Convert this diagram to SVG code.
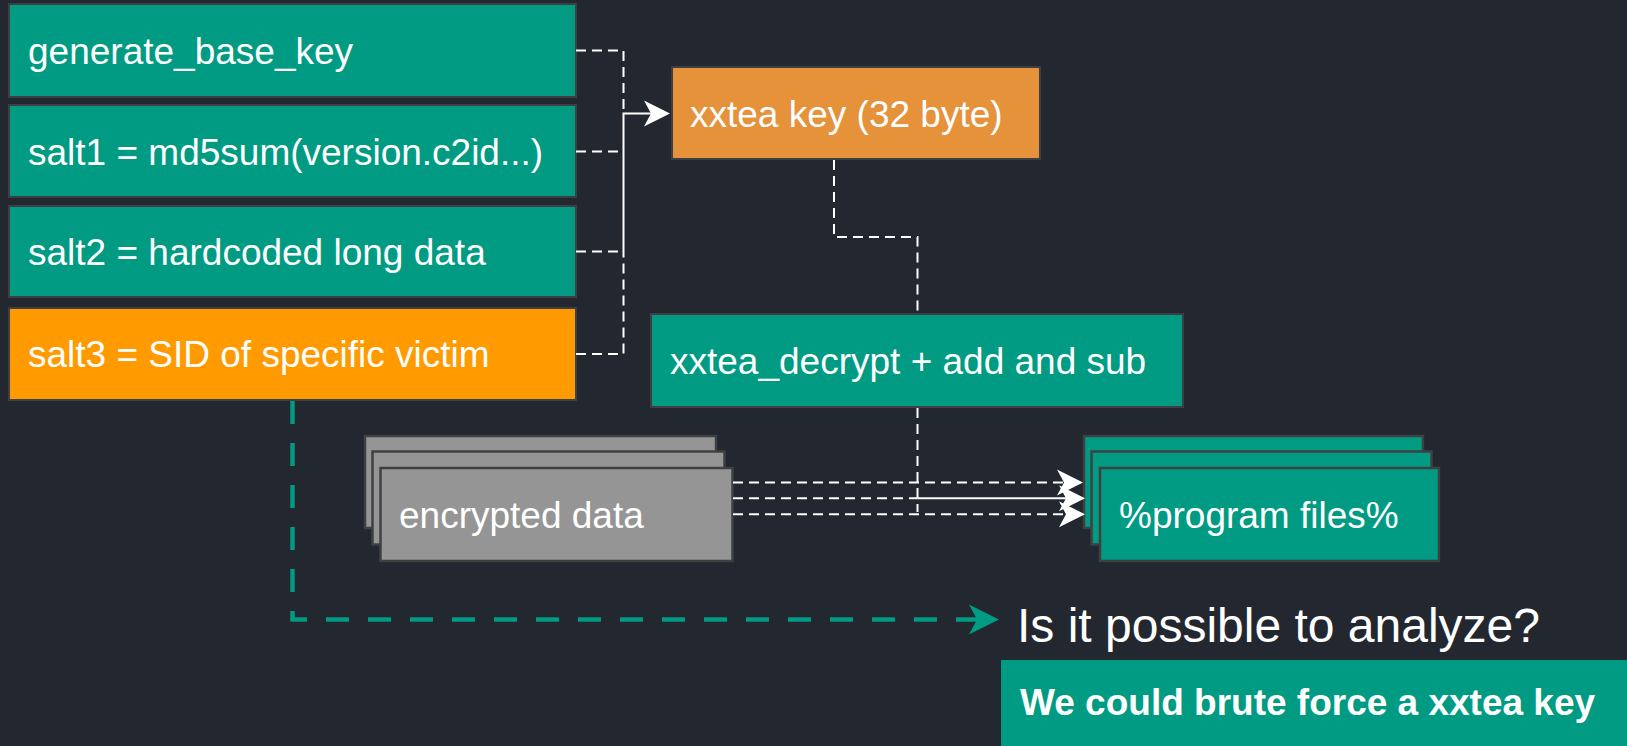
<svg xmlns="http://www.w3.org/2000/svg" width="1627" height="746" viewBox="0 0 1627 746">
  <defs>
    <style>
      .lbl { font-family: "Liberation Sans", Arial, sans-serif; font-size: 37px; fill: #ffffff; }
      .big { font-family: "Liberation Sans", Arial, sans-serif; font-size: 48px; fill: #ffffff; }
      .bold { font-family: "Liberation Sans", Arial, sans-serif; font-size: 37px; font-weight: bold; fill: #ffffff; }
      .teal { fill: #009B82; stroke: #3d3f42; stroke-width: 2; }
      .salt { fill: #FF9A00; stroke: #3d3f42; stroke-width: 2; }
      .key { fill: #E5923B; stroke: #3d3f42; stroke-width: 2; }
      .gray { fill: #959595; stroke: #3f4042; stroke-width: 2.5; }
      .stack { fill: #009B82; stroke: #3f4042; stroke-width: 2.5; }
      .dash { fill: none; stroke: #ffffff; stroke-width: 2; stroke-dasharray: 10 6; }
      .solid { fill: none; stroke: #ffffff; stroke-width: 2; }
      .tealdash { fill: none; stroke: #009B82; stroke-width: 4.5; stroke-dasharray: 23 19; }
    </style>
    <!-- notched arrowheads; the path end sits at the notch -->
    <marker id="arrowW" markerUnits="userSpaceOnUse" markerWidth="27" markerHeight="27" refX="7" refY="13" orient="auto" overflow="visible">
      <path d="M0,0 L26,13 L0,26 L7,13 Z" fill="#ffffff"/>
    </marker>
    <marker id="arrowT" markerUnits="userSpaceOnUse" markerWidth="31" markerHeight="31" refX="8" refY="15" orient="auto" overflow="visible">
      <path d="M0,0 L30,15 L0,30 L8,15 Z" fill="#009B82"/>
    </marker>
  </defs>

  <rect x="0" y="0" width="1627" height="746" fill="#23272F"/>

  <g id="generate_base_key">
    <rect class="teal" x="9" y="4" width="567" height="93"/>
    <text class="lbl" x="28" y="63.5">generate_base_key</text>
  </g>
  <g id="salt1">
    <rect class="teal" x="9" y="105" width="567" height="92"/>
    <text class="lbl" x="28" y="164.5">salt1 = md5sum(version.c2id...)</text>
  </g>
  <g id="salt2">
    <rect class="teal" x="9" y="206" width="567" height="91"/>
    <text class="lbl" x="28" y="265">salt2 = hardcoded long data</text>
  </g>
  <g id="salt3">
    <rect class="salt" x="9" y="308" width="567" height="92"/>
    <text class="lbl" x="28" y="367">salt3 = SID of specific victim</text>
  </g>

  <g id="xxtea_key">
    <rect class="key" x="672" y="67" width="368" height="92"/>
    <text class="lbl" x="690" y="126.5">xxtea key (32 byte)</text>
  </g>

  <g id="xxtea_decrypt">
    <rect class="teal" x="651" y="314" width="532" height="93"/>
    <text class="lbl" x="670" y="373.5">xxtea_decrypt + add and sub</text>
  </g>

  <g id="encrypted_data">
    <rect class="gray" x="365" y="436" width="351" height="92"/>
    <rect class="gray" x="372.5" y="451.5" width="352" height="93"/>
    <rect class="gray" x="380.5" y="468" width="352" height="93"/>
    <text class="lbl" x="399" y="528">encrypted data</text>
  </g>

  <g id="program_files">
    <rect class="stack" x="1084" y="436" width="339" height="92"/>
    <rect class="stack" x="1091.5" y="451.5" width="340" height="93"/>
    <rect class="stack" x="1100" y="468" width="339" height="93"/>
    <text class="lbl" x="1119" y="528">%program files%</text>
  </g>

  <g id="question">
    <text class="big" x="1017" y="642">Is it possible to analyze?</text>
  </g>

  <g id="answer">
    <rect x="1001" y="660" width="626" height="86" fill="#009B82"/>
    <text class="bold" x="1020" y="715">We could brute force a xxtea key</text>
  </g>

  <!-- connectors -->
  <g id="connectors">
    <path class="dash" d="M576,50.5 H623.5 V113.5"/>
    <path class="dash" d="M576,151.5 H623.5"/>
    <path class="dash" d="M576,251.5 H623.5"/>
    <path class="dash" d="M576,354 H623.5 V252"/>
    <path class="solid" d="M623.5,252 V113.5 H651" marker-end="url(#arrowW)"/>

    <path class="dash" d="M834,160 V237 H917.5 V313"/>
    <path class="dash" d="M917.5,408 V512"/>

    <path class="dash" d="M733,482.5 H1064" marker-end="url(#arrowW)"/>
    <path class="dash" d="M733,498.3 H917.5"/>
    <path class="solid" d="M917.5,498.3 H1066" marker-end="url(#arrowW)"/>
    <path class="dash" d="M733,514.3 H1066" marker-end="url(#arrowW)"/>

    <path class="tealdash" d="M292.5,401 V619.5 H977" marker-end="url(#arrowT)"/>
  </g>
</svg>
